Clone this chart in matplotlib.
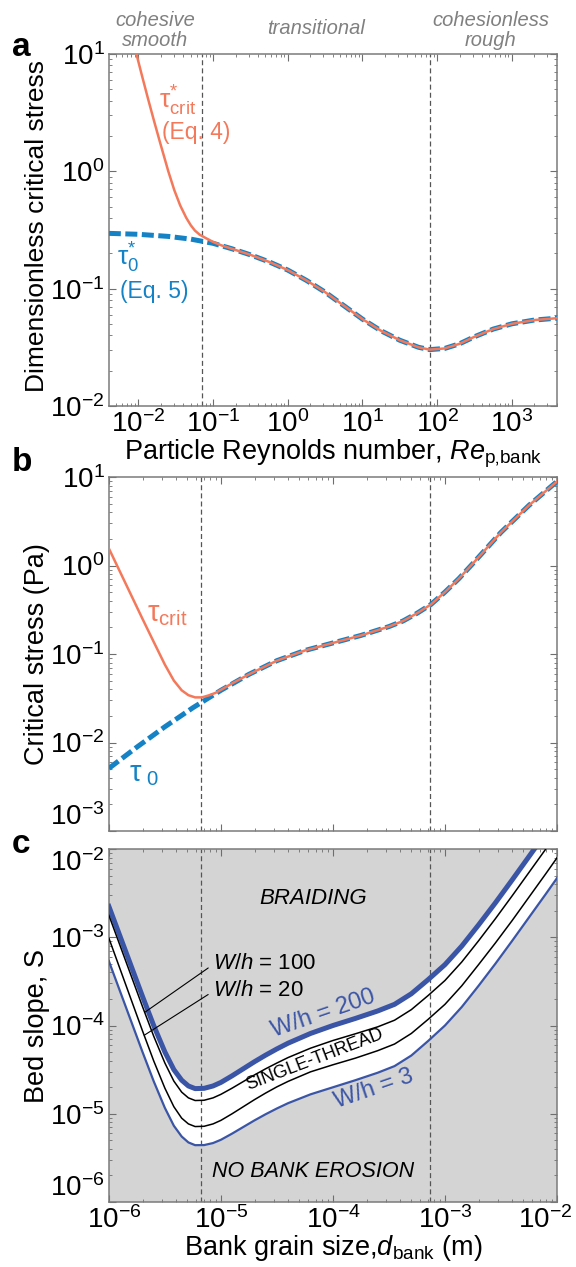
import numpy as np
import matplotlib
matplotlib.use('Agg')
import matplotlib.pyplot as plt
import matplotlib.transforms as mtransforms
from matplotlib.ticker import LogLocator, NullFormatter

# Fuente general y texto matemático en la misma familia
plt.rcParams['font.family'] = ['Liberation Sans', 'DejaVu Sans']
plt.rcParams['mathtext.fontset'] = 'custom'
plt.rcParams['mathtext.rm'] = 'Liberation Sans'
plt.rcParams['mathtext.it'] = 'Liberation Sans:italic'
plt.rcParams['mathtext.bf'] = 'Liberation Sans:bold'
plt.rcParams['mathtext.sf'] = 'Liberation Sans'

# Todos los valores se guardan como log10 (ejes logarítmicos)

# ---- Panel a: esfuerzo crítico adimensional vs Re_p ----
log_re_0 = [-2.396, -2.0, -1.6, -1.3, -1.0, -0.75, -0.5, -0.25, 0.0, 0.25, 0.5, 0.75,
            1.0, 1.25, 1.5, 1.75, 1.9, 2.1, 2.3, 2.5, 2.75, 3.0, 3.3, 3.604]
log_tau0_star = [-0.529, -0.537, -0.555, -0.578, -0.614, -0.660, -0.712, -0.772, -0.842,
                 -0.93, -1.03, -1.145, -1.26, -1.36, -1.44, -1.50, -1.52, -1.51, -1.47,
                 -1.41, -1.345, -1.30, -1.268, -1.252]

log_re_crit = [-2.027, -1.95, -1.87, -1.79, -1.71, -1.63, -1.6, -1.52, -1.44, -1.36, -1.3,
               -1.244, -1.18, -1.11, -1.0, -0.886, -0.75, -0.5, -0.25, 0.0, 0.25, 0.5, 0.75,
               1.0, 1.25, 1.5, 1.75, 1.9, 2.1, 2.3, 2.5, 2.75, 3.0, 3.3, 3.604]
log_tau_crit_star = [1.0, 0.809, 0.615, 0.427, 0.245, 0.067, 0.0, -0.16, -0.292, -0.396,
                     -0.459, -0.505, -0.54, -0.565, -0.602, -0.632, -0.660, -0.712, -0.772,
                     -0.842, -0.93, -1.03, -1.145, -1.26, -1.36, -1.44, -1.50, -1.52, -1.51,
                     -1.47, -1.41, -1.345, -1.30, -1.268, -1.252]

re_bounds = [0.071, 81.0]

# ---- Panel b: esfuerzo crítico (Pa) vs d_bank ----
log_d_0 = [-6.0, -5.75, -5.5, -5.25, -5.0, -4.75, -4.5, -4.25, -4.0, -3.75, -3.5, -3.375,
           -3.25, -3.125, -3.0, -2.875, -2.75, -2.5, -2.25, -2.0]
log_tau0_pa = [-2.292, -2.052, -1.822, -1.607, -1.41, -1.23, -1.075, -0.96, -0.875, -0.79,
               -0.69, -0.627, -0.54, -0.44, -0.30, -0.147, 0.024, 0.375, 0.68, 0.95]

log_d_crit = [-6.0, -5.9, -5.8, -5.7, -5.6, -5.5, -5.42, -5.35, -5.29, -5.23, -5.17, -5.11,
              -5.05, -5.0, -4.9, -4.75, -4.5, -4.25, -4.0, -3.75, -3.5, -3.375, -3.25,
              -3.125, -3.0, -2.875, -2.75, -2.5, -2.25, -2.0]
log_tau_crit_pa = [0.193, -0.072, -0.337, -0.602, -0.862, -1.12, -1.30, -1.41, -1.465,
                   -1.49, -1.49, -1.468, -1.44, -1.405, -1.332, -1.23, -1.075, -0.96, -0.875,
                   -0.79, -0.69, -0.627, -0.54, -0.44, -0.30, -0.147, 0.024, 0.375, 0.68, 0.95]

d_bounds = [6.7e-6, 7.4e-4]

# ---- Panel c: pendiente del lecho S para W/h = 200, 100, 20, 3 ----
log_d_c = [-6.0, -5.9, -5.8, -5.7, -5.6, -5.5, -5.42, -5.35, -5.29, -5.23, -5.15, -5.07,
           -5.0, -4.9, -4.8, -4.7, -4.6, -4.5, -4.4, -4.2, -4.0, -3.8, -3.6, -3.45, -3.3,
           -3.15, -3.0, -2.85, -2.7, -2.55, -2.4, -2.25, -2.1, -2.0]
log_s_w200 = [-2.65, -2.99, -3.33, -3.67, -4.00, -4.30, -4.50, -4.62, -4.685, -4.715,
              -4.712, -4.685, -4.645, -4.57, -4.49, -4.41, -4.335, -4.265, -4.20, -4.09,
              -4.00, -3.92, -3.835, -3.76, -3.64, -3.48, -3.31, -3.10, -2.86, -2.61, -2.35,
              -2.085, -1.82, -1.64]
log_s_w100 = [-2.75, -3.095, -3.44, -3.785, -4.12, -4.425, -4.63, -4.755, -4.82, -4.85,
              -4.847, -4.82, -4.78, -4.71, -4.635, -4.56, -4.49, -4.425, -4.363, -4.257,
              -4.17, -4.094, -4.015, -3.94, -3.82, -3.66, -3.49, -3.28, -3.04, -2.79, -2.53,
              -2.265, -2.0, -1.82]
log_s_w20 = [-3.01, -3.36, -3.71, -4.06, -4.40, -4.71, -4.92, -5.05, -5.115, -5.145,
             -5.142, -5.115, -5.075, -5.0, -4.92, -4.84, -4.765, -4.695, -4.633, -4.525,
             -4.445, -4.37, -4.285, -4.21, -4.09, -3.93, -3.76, -3.55, -3.31, -3.065, -2.81,
             -2.545, -2.28, -2.10]
log_s_w3 = [-3.27, -3.613, -3.956, -4.299, -4.631, -4.934, -5.136, -5.258, -5.325, -5.356,
            -5.355, -5.332, -5.295, -5.225, -5.15, -5.075, -5.005, -4.94, -4.88, -4.78,
            -4.70, -4.62, -4.535, -4.46, -4.34, -4.175, -4.0, -3.79, -3.55, -3.30, -3.04,
            -2.775, -2.51, -2.33]

# Colores
naranja = '#F4795B'
azul = '#1482C5'
azul_c = '#3B55A6'
gris_txt = '#808080'
gris_linea = '#555555'


def pot10(v):
    return 10.0 ** np.asarray(v)


def formato_ejes(ax, xlim, ylim, etiquetas_x=True):
    ax.set_xscale('log')
    ax.set_yscale('log')
    ax.set_xlim(xlim)
    ax.set_ylim(ylim)
    ax.xaxis.set_major_locator(LogLocator(base=10, numticks=20))
    ax.xaxis.set_minor_locator(LogLocator(base=10, subs=np.arange(2, 10) * 1.0, numticks=100))
    ax.yaxis.set_major_locator(LogLocator(base=10, numticks=20))
    ax.yaxis.set_minor_locator(LogLocator(base=10, subs=np.arange(2, 10) * 1.0, numticks=100))
    ax.xaxis.set_minor_formatter(NullFormatter())
    ax.yaxis.set_minor_formatter(NullFormatter())
    ax.tick_params(which='both', direction='in', top=True, right=True,
                   color='#6e6e6e', labelsize=20, pad=3)
    ax.tick_params(which='major', length=5, width=0.8)
    ax.tick_params(which='minor', length=2.5, width=0.6)
    if not etiquetas_x:
        ax.tick_params(labelbottom=False)
    for s in ax.spines.values():
        s.set_color('#7a7a7a')
        s.set_linewidth(1.1)


def lineas_limite(ax, valores):
    for v in valores:
        ax.axvline(v, color=gris_linea, lw=0.9, dashes=(4, 2.5), zorder=2)


fig = plt.figure(figsize=(5.76, 12.67), dpi=100)
ax_a = fig.add_axes([0.189, 0.6796, 0.778, 0.2778])
ax_b = fig.add_axes([0.189, 0.3441, 0.778, 0.2794])
ax_c = fig.add_axes([0.189, 0.0513, 0.778, 0.2786])

# ---------------- Panel a ----------------
formato_ejes(ax_a, (4.02e-3, 4.02e3), (1e-2, 1e1))
lineas_limite(ax_a, re_bounds)
ax_a.plot(pot10(log_re_0), pot10(log_tau0_star), color=azul, lw=3.6, dashes=(2.4, 0.9), zorder=3)
ax_a.plot(pot10(log_re_crit), pot10(log_tau_crit_star), color=naranja, lw=1.8, zorder=4)
ax_a.text(0.112, 0.866, r'$\mathrm{\tau}^{*}_{\mathrm{crit}}$', color=naranja, fontsize=19,
          ha='left', va='center', transform=ax_a.transAxes)
ax_a.text(0.118, 0.776, '(Eq. 4)', color=naranja, fontsize=16.5,
          ha='left', va='center', transform=ax_a.transAxes)
ax_a.text(0.018, 0.422, r'$\mathrm{\tau}^{*}_{0}$', color=azul, fontsize=19,
          ha='left', va='center', transform=ax_a.transAxes)
ax_a.text(0.025, 0.324, '(Eq. 5)', color=azul, fontsize=16.5,
          ha='left', va='center', transform=ax_a.transAxes)
ax_a.text(0.5, -0.153, 'Particle Reynolds number, $Re_{\\mathrm{p\u201abank}}$', fontsize=19.5,
          ha='center', va='baseline', transform=ax_a.transAxes)
ax_a.text(-0.161, 0.51, 'Dimensionless critical stress', fontsize=19, rotation=90,
          ha='center', va='center', transform=ax_a.transAxes)

# ---------------- Panel b ----------------
formato_ejes(ax_b, (1e-6, 1e-2), (1e-3, 1e1), etiquetas_x=False)
lineas_limite(ax_b, d_bounds)
ax_b.plot(pot10(log_d_0), pot10(log_tau0_pa), color=azul, lw=3.6, dashes=(2.4, 0.9), zorder=3)
ax_b.plot(pot10(log_d_crit), pot10(log_tau_crit_pa), color=naranja, lw=1.8, zorder=4)
ax_b.text(0.085, 0.613, r'$\mathrm{\tau}_{\mathrm{crit}}$', color=naranja, fontsize=21,
          ha='left', va='center', transform=ax_b.transAxes)
ax_b.text(0.045, 0.161, r'$\mathrm{\tau}_{\ 0}$', color=azul, fontsize=21,
          ha='left', va='center', transform=ax_b.transAxes)
ax_b.text(-0.161, 0.5, 'Critical stress (Pa)', fontsize=19.5, rotation=90,
          ha='center', va='center', transform=ax_b.transAxes)

# ---------------- Panel c ----------------
formato_ejes(ax_c, (1e-6, 1e-2), (1e-6, 1e-2))
ax_c.set_facecolor('#D4D4D4')
# banda blanca (canal de un solo hilo) entre W/h = 3 y W/h = 200
d_c = pot10(log_d_c)
ax_c.fill_between(d_c, pot10(log_s_w3), pot10(log_s_w200), color='white', lw=0, zorder=1)
lineas_limite(ax_c, d_bounds)
ax_c.plot(d_c, pot10(log_s_w200), color=azul_c, lw=3.6, zorder=4)
ax_c.plot(d_c, pot10(log_s_w100), color='black', lw=1.1, zorder=4)
ax_c.plot(d_c, pot10(log_s_w20), color='black', lw=1.1, zorder=4)
ax_c.plot(d_c, pot10(log_s_w3), color=azul_c, lw=1.6, zorder=4)

ax_c.text(0.455, 0.861, 'BRAIDING', style='italic', fontsize=16,
          ha='center', va='center', transform=ax_c.transAxes)
ax_c.text(0.455, 0.085, 'NO BANK EROSION', style='italic', fontsize=15.5,
          ha='center', va='center', transform=ax_c.transAxes)
ax_c.text(0.46, 0.402, 'SINGLE-THREAD', fontsize=13, rotation=21,
          ha='center', va='center', rotation_mode='anchor', transform=ax_c.transAxes)
ax_c.text(0.478, 0.534, 'W/h = 200', color=azul_c, fontsize=17,
          rotation=19, ha='center', va='center', rotation_mode='anchor',
          transform=ax_c.transAxes)
ax_c.text(0.592, 0.32, 'W/h = 3', color=azul_c, fontsize=17,
          rotation=19, ha='center', va='center', rotation_mode='anchor',
          transform=ax_c.transAxes)
ax_c.annotate(r'$W/h$ = 100', xy=(2.09e-6, 1.41e-4), xytext=(0.233, 0.676),
              textcoords='axes fraction', fontsize=16, ha='left', va='center',
              arrowprops=dict(arrowstyle='-', lw=0.8, color='black',
                              relpos=(0, 0.45), shrinkA=2, shrinkB=0), zorder=5)
ax_c.annotate(r'$W/h$ = 20', xy=(2.07e-6, 7.76e-5), xytext=(0.233, 0.60),
              textcoords='axes fraction', fontsize=16, ha='left', va='center',
              arrowprops=dict(arrowstyle='-', lw=0.8, color='black',
                              relpos=(0, 0.45), shrinkA=2, shrinkB=0), zorder=5)
ax_c.text(0.5, -0.150, r'Bank grain size,$d_{\mathrm{bank}}$ (m)', fontsize=19.5,
          ha='center', va='baseline', transform=ax_c.transAxes)
ax_c.text(-0.161, 0.5, 'Bed slope, S', fontsize=19.5, rotation=90,
          ha='center', va='center', transform=ax_c.transAxes)

# ajustes de las etiquetas de los extremos para que no se pisen ni se corten
fig.canvas.draw()
for t in ax_b.yaxis.get_major_ticks():
    if np.isclose(t.get_loc(), 1e-3):
        t.label1.set_va('bottom')
for t in ax_c.yaxis.get_major_ticks():
    if np.isclose(t.get_loc(), 1e-2):
        t.label1.set_va('top')
    elif np.isclose(t.get_loc(), 1e-6):
        t.label1.set_va('bottom')
for t in ax_c.xaxis.get_major_ticks():
    if np.isclose(t.get_loc(), 1e-2):
        desp = mtransforms.ScaledTranslation(-0.12, 0, fig.dpi_scale_trans)
        t.label1.set_transform(t.label1.get_transform() + desp)
    elif np.isclose(t.get_loc(), 1e-6):
        desp = mtransforms.ScaledTranslation(0.05, 0, fig.dpi_scale_trans)
        t.label1.set_transform(t.label1.get_transform() + desp)

# Letras de los paneles
fig.text(12 / 576, 1 - 56 / 1267, 'a', fontsize=24, fontweight='bold', va='baseline')
fig.text(12 / 576, 1 - 471 / 1267, 'b', fontsize=24, fontweight='bold', va='baseline')
fig.text(12 / 576, 1 - 853 / 1267, 'c', fontsize=24, fontweight='bold', va='baseline')

# Regímenes en la parte superior
regimen = dict(style='italic', color=gris_txt, fontsize=14.5, ha='center', va='baseline')
fig.text(155 / 576, 1 - 26 / 1267, 'cohesive', **regimen)
fig.text(155 / 576, 1 - 46 / 1267, 'smooth', **regimen)
fig.text(316 / 576, 1 - 34 / 1267, 'transitional', **regimen)
fig.text(491 / 576, 1 - 26 / 1267, 'cohesionless', **regimen)
fig.text(491 / 576, 1 - 46 / 1267, 'rough', **regimen)

fig.savefig('out.png', dpi=100)
